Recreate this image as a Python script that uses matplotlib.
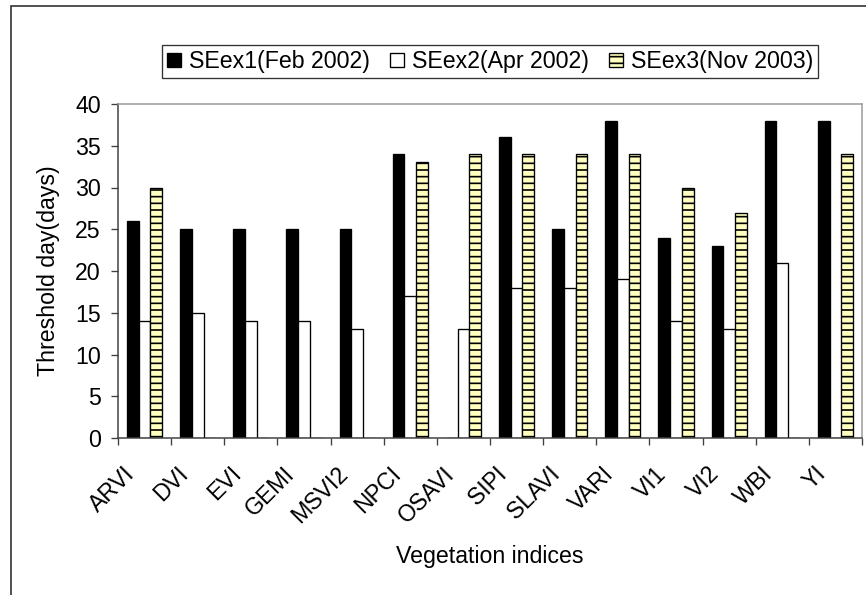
import matplotlib
matplotlib.use('Agg')
import matplotlib.pyplot as plt
import matplotlib.transforms as mtransforms
from matplotlib.patches import Rectangle
import numpy as np

plt.rcParams['font.family'] = ['Liberation Sans', 'DejaVu Sans']
plt.rcParams['hatch.linewidth'] = 1.0

indices = ['ARVI', 'DVI', 'EVI', 'GEMI', 'MSVI2', 'NPCI', 'OSAVI', 'SIPI',
           'SLAVI', 'VARI', 'VI1', 'VI2', 'WBI', 'YI']
seex1 = [26, 25, 25, 25, 25, 34, 0, 36, 25, 38, 24, 23, 38, 38]
seex2 = [14, 15, 14, 14, 13, 17, 13, 18, 18, 19, 14, 13, 21, 0]
seex3 = [30, 0, 0, 0, 0, 33, 34, 34, 34, 34, 30, 27, 0, 34]
series_names = ['SEex1(Feb 2002)', 'SEex2(Apr 2002)', 'SEex3(Nov 2003)']
yticks = [0, 5, 10, 15, 20, 25, 30, 35, 40]

dpi = 120
fs = 13.9
fig = plt.figure(figsize=(866 / dpi, 595 / dpi), dpi=dpi)
ax = fig.add_axes([118 / 866, 1 - 438 / 595, 744 / 866, 334 / 595])

x = np.arange(len(indices))
w = 0.22
ax.bar(x - w, seex1, w, color='black', edgecolor='black', linewidth=0.8,
       label=series_names[0])
ax.bar(x, seex2, w, color='white', edgecolor='black', linewidth=0.8,
       label=series_names[1])
ax.bar(x + w, seex3, w, color='#FFFFC0', edgecolor='black', linewidth=0.8,
       hatch='---', label=series_names[2])

ax.set_xlim(-0.5, len(indices) - 0.5)
ax.set_ylim(0, 40)
ax.set_yticks(yticks)

# labels at category centres, ticks at boundaries
ax.set_xticks(x)
ax.set_xticklabels(indices, rotation=45, ha='right', va='center',
                   rotation_mode='anchor')
ax.set_xticks(np.arange(len(indices) + 1) - 0.5, minor=True)
ax.tick_params(axis='x', which='major', length=0, pad=19.5, labelsize=fs)
ax.tick_params(axis='x', which='minor', length=4.2, width=0.8, color='#404040')
ax.tick_params(axis='y', length=4.2, width=0.8, color='#404040', pad=6.0,
               labelsize=fs)
shift = mtransforms.ScaledTranslation(-13 / dpi, 0, fig.dpi_scale_trans)
for lab in ax.get_xticklabels():
    lab.set_transform(lab.get_transform() + shift)

for s in ['left', 'bottom']:
    ax.spines[s].set_color('#404040')
    ax.spines[s].set_linewidth(0.9)
for s in ['top', 'right']:
    ax.spines[s].set_color('#999999')
    ax.spines[s].set_linewidth(0.9)

ax.set_xlabel('Vegetation indices', fontsize=fs)
ax.xaxis.set_label_coords(0.5, -0.356)
ax.xaxis.label.set_va('center')
ax.set_ylabel('Threshold day(days)', fontsize=fs)
ax.yaxis.set_label_coords(-0.094, 0.5)
ax.yaxis.label.set_va('center')

leg = ax.legend(loc='center', bbox_to_anchor=(0.5, 1.127), ncol=3,
                fontsize=fs, frameon=True, fancybox=False, shadow=False,
                handlelength=0.6, handleheight=0.6, handletextpad=0.35,
                columnspacing=0.87, borderpad=0.2, borderaxespad=0)
leg.get_frame().set_edgecolor('black')
leg.get_frame().set_linewidth(0.8)

# outer chart frame
fig.add_artist(Rectangle((10.5 / 866, -0.1), 1.2, 1.1 - 6 / 595,
                         transform=fig.transFigure, fill=False,
                         edgecolor='#333333', linewidth=1.0))

fig.savefig('out.png', dpi=dpi)
